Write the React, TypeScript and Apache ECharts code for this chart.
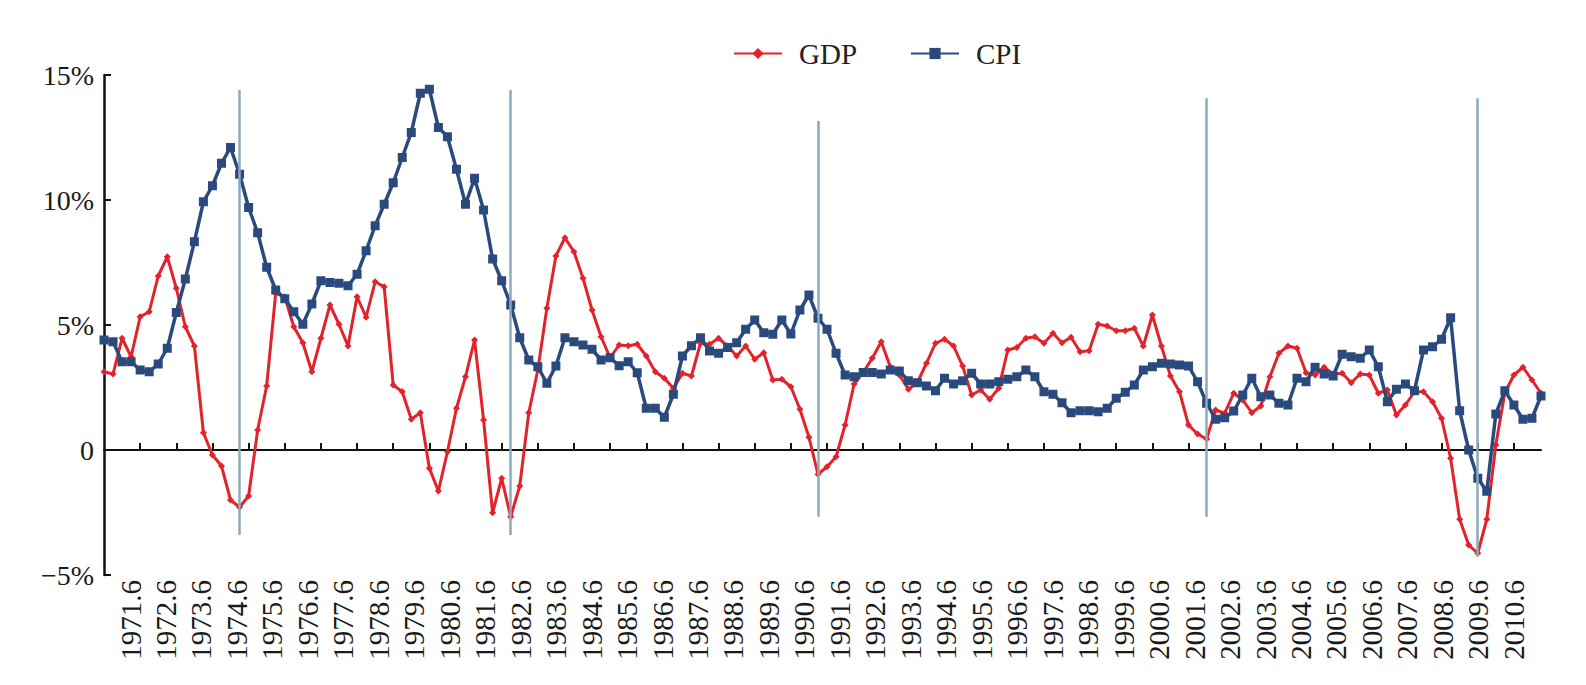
import React, { useEffect, useRef } from "react";
import * as echarts from "echarts";

// Quarterly observations, 1971.3 … 2010.12 (160 quarters)
const quarters: string[] = [];
for (let y = 1971; y <= 2010; y++) {
  for (const m of [3, 6, 9, 12]) quarters.push(`${y}.${m}`);
}

// Year labels printed under the axis
const yearLabels: string[] = [];
for (let y = 1971; y <= 2010; y++) yearLabels.push(`${y}.6`);

// Real GDP growth, % year on year
const gdp: number[] = [
  3.13, 3.04, 4.47, 3.73, 5.33, 5.53, 6.96, 7.73, 6.47, 4.93,
  4.16, 0.69, -0.2, -0.64, -2.0, -2.29, -1.84, 0.8, 2.56, 6.27,
  6.13, 4.93, 4.29, 3.13, 4.47, 5.8, 5.03, 4.16, 6.13, 5.31,
  6.73, 6.53, 2.6, 2.33, 1.23, 1.49, -0.73, -1.64, -0.07, 1.67,
  2.93, 4.4, 1.2, -2.51, -1.13, -2.67, -1.44, 1.49, 3.2, 5.67,
  7.76, 8.49, 7.93, 6.87, 5.6, 4.53, 3.69, 4.2, 4.17, 4.23,
  3.76, 3.13, 2.87, 2.47, 3.07, 2.96, 4.27, 4.23, 4.47, 4.16,
  3.76, 4.16, 3.63, 3.89, 2.8, 2.83, 2.53, 1.63, 0.51, -0.97,
  -0.67, -0.27, 1.0, 2.64, 3.1, 3.67, 4.33, 3.33, 3.0, 2.43,
  2.7, 3.47, 4.27, 4.43, 4.16, 3.36, 2.2, 2.4, 2.03, 2.47,
  4.0, 4.1, 4.47, 4.53, 4.27, 4.67, 4.29, 4.51, 3.93, 3.97,
  5.03, 4.96, 4.77, 4.77, 4.87, 4.16, 5.4, 4.16, 2.96, 2.33,
  1.0, 0.64, 0.44, 1.6, 1.47, 2.27, 2.0, 1.49, 1.76, 2.93,
  3.87, 4.16, 4.07, 3.09, 3.0, 3.31, 3.04, 3.07, 2.69, 3.04,
  3.0, 2.27, 2.4, 1.4, 1.8, 2.33, 2.33, 1.93, 1.27, -0.33,
  -2.77, -3.8, -4.13, -2.77, 0.2, 2.29, 3.0, 3.31, 2.8, 2.27,
];

// Consumer price inflation, % year on year
const cpi: number[] = [
  4.4, 4.33, 3.53, 3.53, 3.2, 3.13, 3.44, 4.07, 5.5, 6.84,
  8.33, 9.93, 10.57, 11.47, 12.1, 11.03, 9.7, 8.69, 7.31, 6.4,
  6.05, 5.53, 5.03, 5.84, 6.77, 6.7, 6.67, 6.57, 7.03, 7.97,
  8.97, 9.83, 10.69, 11.7, 12.7, 14.27, 14.43, 12.9, 12.53, 11.23,
  9.83, 10.87, 9.6, 7.64, 6.77, 5.8, 4.49, 3.6, 3.33, 2.67,
  3.36, 4.49, 4.33, 4.2, 4.03, 3.6, 3.69, 3.37, 3.53, 3.09,
  1.67, 1.67, 1.31, 2.23, 3.76, 4.17, 4.49, 3.96, 3.87, 4.1,
  4.29, 4.83, 5.2, 4.69, 4.63, 5.2, 4.64, 5.6, 6.2, 5.27,
  4.83, 3.87, 3.0, 2.93, 3.1, 3.1, 3.04, 3.2, 3.16, 2.77,
  2.69, 2.56, 2.37, 2.87, 2.64, 2.77, 3.07, 2.64, 2.64, 2.73,
  2.83, 2.93, 3.2, 2.93, 2.33, 2.23, 1.89, 1.49, 1.57, 1.57,
  1.53, 1.67, 2.07, 2.31, 2.6, 3.2, 3.33, 3.47, 3.44, 3.4,
  3.36, 2.73, 1.87, 1.23, 1.29, 1.56, 2.2, 2.87, 2.13, 2.2,
  1.87, 1.8, 2.87, 2.73, 3.31, 3.04, 2.96, 3.83, 3.73, 3.67,
  4.0, 3.33, 1.93, 2.43, 2.64, 2.37, 4.0, 4.13, 4.43, 5.29,
  1.57, 0.0, -1.13, -1.65, 1.44, 2.37, 1.8, 1.23, 1.27, 2.16,
];

// Recession troughs: quarter index and the vertical extent of the marker line (%)
const troughIndex: number[] = [15, 45, 79, 122, 152];
const troughTop: number[] = [14.4, 14.4, 13.16, 14.07, 14.07];
const troughBottom: number[] = [-3.4, -3.4, -2.67, -2.67, -4.27];

const yTicks = { min: -5, max: 15, step: 5 };

const SERIF = "'Liberation Serif', 'Times New Roman', serif";
const RED = "#e2232c";
const BLUE = "#2a4a7e";
const AXIS = "#111111";

export default function App() {
  const ref = useRef<HTMLDivElement>(null);

  useEffect(() => {
    if (!ref.current) return;
    const chart = echarts.init(ref.current, undefined, { renderer: "svg" });

    const recessionLines = troughIndex.map((idx, k) => [
      { coord: [quarters[idx], troughTop[k]] },
      { coord: [quarters[idx], troughBottom[k]] },
    ]);

    chart.setOption({
      animation: false,
      backgroundColor: "#ffffff",
      legend: {
        data: ["GDP", "CPI"],
        left: 728,
        top: 34,
        itemWidth: 48,
        itemHeight: 14,
        itemGap: 53,
        textStyle: {
          fontFamily: SERIF,
          fontSize: 29,
          color: "#222",
          padding: [0, 0, 0, 12],
        },
      },
      grid: [
        { left: 104, right: 45, top: 75, bottom: 110 },
        { left: 130.5, right: 72.2, top: 75, bottom: 110 },
      ],
      xAxis: [
        {
          gridIndex: 0,
          type: "category",
          data: quarters,
          boundaryGap: false,
          axisLine: { onZero: true, lineStyle: { color: AXIS, width: 2 } },
          axisTick: {
            show: true,
            inside: true,
            length: 7,
            interval: (i: number) => i > 0 && i % 4 === 0,
            lineStyle: { color: AXIS, width: 2 },
          },
          axisLabel: { show: false },
          splitLine: { show: false },
        },
        {
          gridIndex: 1,
          type: "category",
          data: yearLabels,
          boundaryGap: false,
          axisLine: { show: false, onZero: false },
          axisTick: { show: false },
          axisLabel: {
            interval: 0,
            rotate: 90,
            margin: 5,
            fontFamily: SERIF,
            fontSize: 29,
            color: "#1a1a1a",
          },
          splitLine: { show: false },
        },
      ],
      yAxis: [
        {
          gridIndex: 0,
          type: "value",
          min: yTicks.min,
          max: yTicks.max,
          interval: yTicks.step,
          axisLine: { show: true, onZero: false, lineStyle: { color: AXIS, width: 2.5 } },
          axisTick: { show: true, inside: true, length: 7, lineStyle: { color: AXIS, width: 2 } },
          axisLabel: {
            margin: 10,
            fontFamily: SERIF,
            fontSize: 28,
            color: "#1a1a1a",
            formatter: (v: number) =>
              v === 0 ? "0" : v < 0 ? `\u2212${Math.abs(v)}%` : `${v}%`,
          },
          splitLine: { show: false },
        },
        { gridIndex: 1, type: "value", min: 0, max: 1, show: false },
      ],
      series: [
        {
          name: "GDP",
          type: "line",
          xAxisIndex: 0,
          yAxisIndex: 0,
          data: gdp,
          symbol: "diamond",
          symbolSize: 7,
          showAllSymbol: true,
          color: RED,
          itemStyle: { color: RED },
          lineStyle: { color: RED, width: 3 },
          z: 3,
        },
        {
          name: "CPI",
          type: "line",
          xAxisIndex: 0,
          yAxisIndex: 0,
          data: cpi,
          symbol: "rect",
          symbolSize: 9,
          showAllSymbol: true,
          color: BLUE,
          itemStyle: { color: BLUE },
          lineStyle: { color: BLUE, width: 3.5 },
          z: 4,
        },
        {
          name: "trough",
          type: "line",
          xAxisIndex: 0,
          yAxisIndex: 0,
          data: quarters.map(() => null),
          showSymbol: false,
          lineStyle: { opacity: 0 },
          z: 6,
          markLine: {
            silent: true,
            symbol: ["none", "none"],
            label: { show: false },
            lineStyle: { color: "#8eaabd", width: 2.5, type: "solid" },
            data: recessionLines,
          },
        },
      ],
    });

    return () => chart.dispose();
  }, []);

  return (
    <div
      ref={ref}
      style={{
        position: "fixed",
        left: 0,
        top: 0,
        width: 1586,
        height: 685,
        background: "#ffffff",
      }}
    />
  );
}
